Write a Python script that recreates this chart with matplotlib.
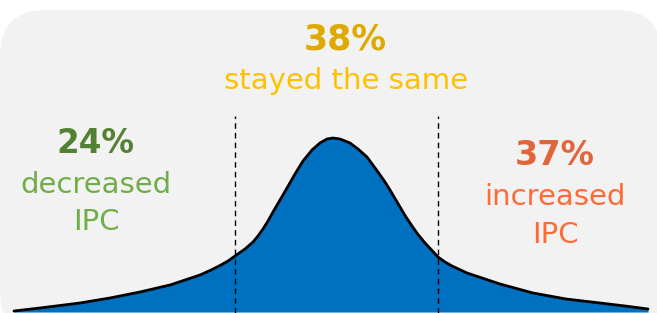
import matplotlib.pyplot as plt
from matplotlib.patches import FancyBboxPatch

# curve (x position, height above the bottom edge)
curve_x = [14, 40, 80, 110, 140, 170, 200, 210, 220, 228, 235, 245, 253, 258,
           263, 268, 273, 280, 287, 295, 303, 312, 320, 327, 333, 340, 350,
           358, 367, 378, 385, 390, 395, 400, 406, 412, 418, 425, 432, 438,
           445, 452, 467, 500, 533, 566, 600, 625, 648]
curve_h = [2, 5, 10, 15, 21, 28, 38, 42.5, 47.5, 52, 57, 64, 71, 77,
           84, 92, 101, 113, 125, 139, 152, 163, 170, 174, 175, 174, 170,
           164, 156, 141, 131, 123, 114.5, 106, 96, 87, 78.5, 70, 62.5, 56,
           51, 47, 40, 29, 20, 14, 10, 7, 4]
split_x = [235, 438]

groups = ["decreased\nIPC", "stayed the same", "increased\nIPC"]
shares = [24, 38, 37]

pct_colors = ["#548235", "#dea900", "#e2653a"]
txt_colors = ["#70ad47", "#ffc000", "#ff6a35"]

W, H = 657, 313
fig = plt.figure(figsize=(W / 100, H / 100), dpi=100)
ax = fig.add_axes([0, 0, 1, 1])
ax.set_xlim(0, W)
ax.set_ylim(0, H)
ax.axis("off")

# grey rounded panel behind everything
panel = FancyBboxPatch((0, -25), 662, 328, boxstyle="round,pad=0,rounding_size=46",
                       facecolor="#f2f2f2", edgecolor="none", zorder=0)
ax.add_patch(panel)

ax.fill_between(curve_x, 1, curve_h, color="#0070c0", lw=0, zorder=2)
ax.plot(curve_x, curve_h, color="black", lw=2, solid_capstyle="round",
        solid_joinstyle="round", zorder=3)

for sx in split_x:
    ax.plot([sx, sx], [0, 197], color="black", lw=1, ls=(0, (4, 3)), zorder=4)

fam = ["DejaVu Sans"]
body = 21
# left group
ax.text(95, 160, f"{shares[0]}%", ha="center", va="baseline", fontsize=23.5,
        fontweight="bold", color=pct_colors[0], family=fam)
ax.text(96, 120, groups[0].split("\n")[0], ha="center", va="baseline",
        fontsize=body, color=txt_colors[0], family=fam)
ax.text(96, 83, groups[0].split("\n")[1], ha="center", va="baseline",
        fontsize=body, color=txt_colors[0], family=fam)
# middle group
ax.text(345, 263, f"{shares[1]}%", ha="center", va="baseline", fontsize=25,
        fontweight="bold", color=pct_colors[1], family=fam)
ax.text(346, 224, groups[1], ha="center", va="baseline", fontsize=body,
        color=txt_colors[1], family=fam)
# right group
ax.text(555, 148, f"{shares[2]}%", ha="center", va="baseline", fontsize=24,
        fontweight="bold", color=pct_colors[2], family=fam)
ax.text(555, 108, groups[2].split("\n")[0], ha="center", va="baseline",
        fontsize=body, color=txt_colors[2], family=fam)
ax.text(555, 70, groups[2].split("\n")[1], ha="center", va="baseline",
        fontsize=body, color=txt_colors[2], family=fam)

fig.savefig("out.png", dpi=100)
